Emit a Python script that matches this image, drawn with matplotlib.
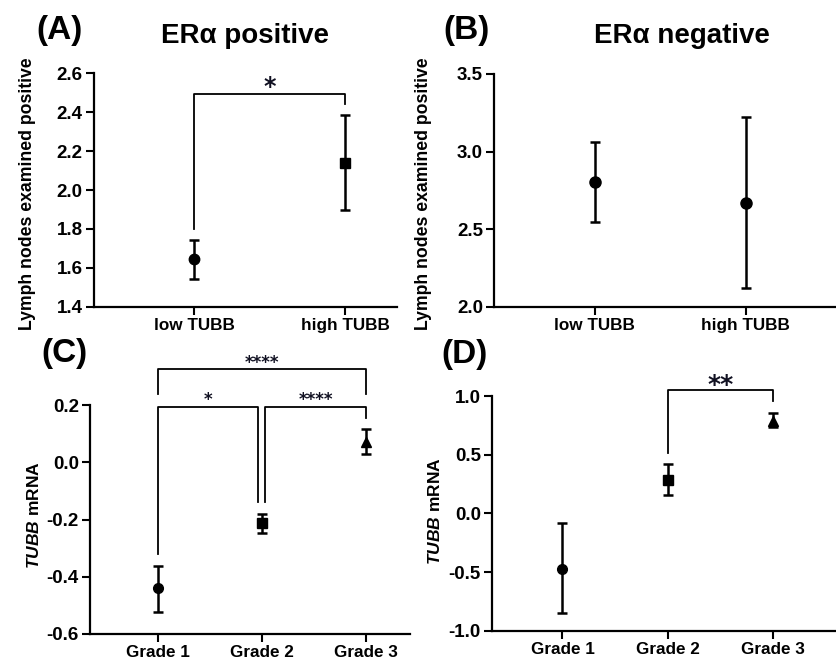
import numpy as np
import matplotlib.pyplot as plt

plt.rcParams['font.family'] = ['Liberation Sans', 'DejaVu Sans']
plt.rcParams['font.weight'] = 'bold'
plt.rcParams['axes.unicode_minus'] = False
plt.rcParams['mathtext.fontset'] = 'custom'
plt.rcParams['mathtext.bfit'] = 'Liberation Sans:italic:bold'
plt.rcParams['mathtext.it'] = 'Liberation Sans:italic:bold'
plt.rcParams['mathtext.rm'] = 'Liberation Sans:bold'

# panel A / B: lymph nodes by TUBB level
tubb_groups = ['low TUBB', 'high TUBB']
pos_mean = [1.645, 2.14]
pos_lo = [1.545, 1.895]
pos_hi = [1.745, 2.385]
neg_mean = [2.805, 2.67]
neg_lo = [2.55, 2.12]
neg_hi = [3.065, 3.22]

# panel C / D: TUBB mRNA by grade
grades = ['Grade 1', 'Grade 2', 'Grade 3']
c_mean = [-0.44, -0.213, 0.072]
c_lo = [-0.522, -0.248, 0.029]
c_hi = [-0.361, -0.18, 0.116]
d_mean = [-0.472, 0.287, 0.79]
d_lo = [-0.847, 0.159, 0.74]
d_hi = [-0.085, 0.42, 0.858]

markers_ab = [['o', 's'], ['o', 'o']]
markers_cd = ['o', 's', '^']

fig = plt.figure(figsize=(8.36, 6.64), dpi=100)
axA = fig.add_axes([0.1124, 0.5377, 0.3625, 0.3523])
axB = fig.add_axes([0.5909, 0.5377, 0.4091, 0.3509])
axC = fig.add_axes([0.1077, 0.0452, 0.3827, 0.3444])
axD = fig.add_axes([0.5885, 0.0502, 0.4115, 0.3534])


def style(ax):
    for s in ['top', 'right']:
        ax.spines[s].set_visible(False)
    for s in ['left', 'bottom']:
        ax.spines[s].set_linewidth(1.6)
    ax.tick_params(direction='out', length=6, width=1.5, pad=2)
    ax.tick_params(axis='y', labelsize=13.5)
    ax.tick_params(axis='x', labelsize=12.3)
    for lab in ax.get_xticklabels() + ax.get_yticklabels():
        lab.set_fontweight('bold')


def points(ax, names, mean, lo, hi, mk, ms=7.5):
    x = np.arange(len(names))
    for i in range(len(names)):
        ax.errorbar(x[i], mean[i], yerr=[[mean[i] - lo[i]], [hi[i] - mean[i]]],
                    fmt=mk[i], color='black', ms=ms, ecolor='black',
                    elinewidth=1.8, capsize=3.5, capthick=1.8)
    ax.set_xticks(x)
    ax.set_xticklabels(names)


def bracket(ax, x1, x2, y, y1, y2, text, fs=13, off=0.0):
    ax.plot([x1, x1, x2, x2], [y1, y, y, y2], color='black', lw=1.3,
            clip_on=False)
    ax.annotate(text, xy=((x1 + x2) / 2, y), xytext=(0, off),
                textcoords='offset points', ha='center', va='baseline',
                fontsize=fs, fontweight='bold', family='DejaVu Sans',
                color='#111122', annotation_clip=False)


# A
points(axA, tubb_groups, pos_mean, pos_lo, pos_hi, markers_ab[0])
axA.set_xlim(-0.66, 1.34)
axA.set_ylim(1.4, 2.6)
axA.set_yticks(np.arange(1.4, 2.61, 0.2))
axA.set_yticklabels(['%.1f' % v for v in np.arange(1.4, 2.61, 0.2)])
bracket(axA, 0, 1, 2.49, 1.80, 2.44, '*', fs=17, off=0.5)
style(axA)

# B
points(axB, tubb_groups, neg_mean, neg_lo, neg_hi, markers_ab[1], ms=8)
axB.set_xlim(-0.67, 1.6)
axB.set_ylim(2.0, 3.5)
axB.set_yticks([2.0, 2.5, 3.0, 3.5])
axB.set_yticklabels(['2.0', '2.5', '3.0', '3.5'])
style(axB)

# C
points(axC, grades, c_mean, c_lo, c_hi, markers_cd, ms=7)
axC.set_xlim(-0.65, 2.42)
axC.set_ylim(-0.6, 0.2)
axC.set_yticks([-0.6, -0.4, -0.2, 0.0, 0.2])
axC.set_yticklabels(['-0.6', '-0.4', '-0.2', '0.0', '0.2'])
bracket(axC, 0, 2, 0.326, 0.238, 0.238, '****', fs=12, off=1)
bracket(axC, 0, 0.96, 0.195, -0.32, -0.14, '*', fs=12, off=1)
bracket(axC, 1.03, 2, 0.195, -0.14, 0.157, '****', fs=12, off=1)
style(axC)

# D
points(axD, grades, d_mean, d_lo, d_hi, markers_cd, ms=7)
axD.set_xlim(-0.67, 2.6)
axD.set_ylim(-1.0, 1.0)
axD.set_yticks([-1.0, -0.5, 0.0, 0.5, 1.0])
axD.set_yticklabels(['-1.0', '-0.5', '0.0', '0.5', '1.0'])
bracket(axD, 1, 2, 1.05, 0.517, 0.957, '**', fs=18, off=-1.5)
style(axD)

# y labels
ylab = 'Lymph nodes examined positive'
fig.text(0.0329, 0.708, ylab, rotation=90, fontsize=12.7, fontweight='bold',
         ha='center', va='center')
fig.text(0.507, 0.7086, ylab, rotation=90, fontsize=12.7, fontweight='bold',
         ha='center', va='center')
fig.text(0.0407, 0.2244, r'$\mathbfit{TUBB}$ mRNA', rotation=90, fontsize=12.5,
         fontweight='bold', ha='center', va='center')
fig.text(0.520, 0.2307, r'$\mathbfit{TUBB}$ mRNA', rotation=90, fontsize=12.5,
         fontweight='bold', ha='center', va='center')

# panel letters and titles
fig.text(0.0706, 0.9408, '(A)', fontsize=24, fontweight='bold', va='baseline', ha='center')
fig.text(0.293, 0.9357, 'ERα positive', fontsize=20, fontweight='bold', va='baseline', ha='center')
fig.text(0.5586, 0.941, '(B)', fontsize=24, fontweight='bold', va='baseline', ha='center')
fig.text(0.8152, 0.9357, 'ERα negative', fontsize=20, fontweight='bold', va='baseline', ha='center')
fig.text(0.0766, 0.4553, '(C)', fontsize=24, fontweight='bold', va='baseline', ha='center')
fig.text(0.5559, 0.4533, '(D)', fontsize=24, fontweight='bold', va='baseline', ha='center')

fig.savefig('out.png', dpi=100)
